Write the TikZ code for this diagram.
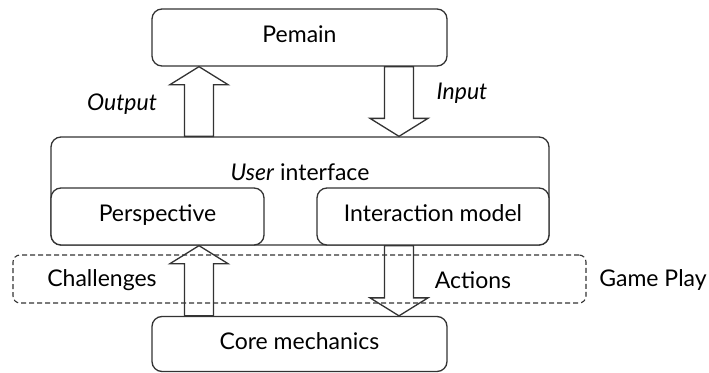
\documentclass[tikz,border=0pt]{standalone}
\usepackage{fontspec}
\setmainfont{Lato}
\usetikzlibrary{calc}

% Outlined block arrow from a tail point to a tip point; #3 = +1 points down, -1 points up
\newcommand{\blockarrow}[3]{%
  \draw[barrow] ($(#1)+(-14.5,0)$) -- ($(#2)+(-14.5,{-(#3)*18})$)
    -- ($(#2)+(-29,{-(#3)*18})$) -- (#2) -- ($(#2)+(29,{-(#3)*18})$)
    -- ($(#2)+(14.5,{-(#3)*18})$) -- ($(#1)+(14.5,0)$) -- cycle;}

\begin{document}
\begin{tikzpicture}[x=1pt,y=-1pt,
  every node/.style={font=\fontsize{23}{27}\selectfont, text=black},
  box/.style={draw=black!80, line width=1.3pt, rounded corners=10pt, fill=white,
    inner sep=0pt, text height=16pt, text depth=6pt},
  gamezone/.style={draw=black!80, line width=1.1pt, dash pattern=on 5pt off 3pt,
    rounded corners=7pt, inner sep=0pt},
  barrow/.style={draw=black!80, line width=1.3pt, line join=miter},
  lbl/.style={inner sep=0pt}]
\useasboundingbox (0,0) rectangle (709,372);

% boxes
\node[box, minimum width=295pt, minimum height=57pt] (pem) at (299.5,37.5) {Pemain};
\node[box, minimum width=498pt, minimum height=108pt] (ui) at (300,191) {};
\node[lbl] (uilabel) at (300,172) {\textit{User} interface};
\node[box, minimum width=213pt, minimum height=57pt] (persp) at (157.5,216.5) {Perspective};
\node[box, minimum width=232pt, minimum height=57pt] (inter) at (433,216.5) {Interaction model};
\node[box, minimum width=295pt, minimum height=55pt] (core) at (299.5,344) {Core mechanics};

% arrow axes
\coordinate (xl) at (199,0);
\coordinate (xr) at (399,0);

% block arrows
\blockarrow{ui.north -| xl}{pem.south -| xl}{-1}
\blockarrow{pem.south -| xr}{ui.north -| xr}{1}
\blockarrow{core.north -| xl}{persp.south -| xl}{-1}
\blockarrow{inter.south -| xr}{core.north -| xr}{1}

% game play zone, drawn across the arrows
\node[gamezone, minimum width=573pt, minimum height=48pt] (play) at (299.5,279) {};

% labels
\node[lbl] (outlbl) at (122,104) {\textit{Output}};
\node[lbl] (inlbl) at (462,93) {\textit{Input}};
\node[lbl] (chal) at (102,280) {Challenges};
\node[lbl] (act) at (473,280) {Actions};
\node[lbl] (gp) at (653,280) {Game Play};
\end{tikzpicture}
\end{document}
